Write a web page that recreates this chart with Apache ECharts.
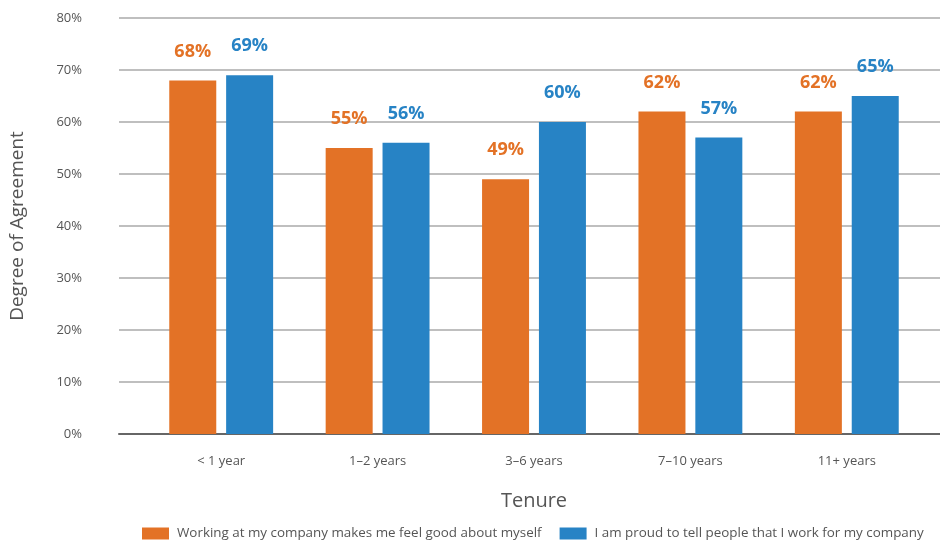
<!DOCTYPE html>
<html>
<head>
<meta charset="utf-8">
<script src="https://cdn.jsdelivr.net/npm/echarts@6/dist/echarts.min.js"></script>
<style>
  html, body { margin: 0; padding: 0; background: #fff; }
  #chart { width: 940px; height: 540px; }
</style>
</head>
<body>
<div id="chart"></div>
<script>
// Tenure bands and agreement (%) per statement
const categories = ['< 1 year', '1\u20132 years', '3\u20136 years', '7\u201310 years', '11+ years'];
const feelGood = [68, 55, 49, 62, 62];
const proudToTell = [69, 56, 60, 57, 65];
const seriesNames = [
  'Working at my company makes me feel good about myself',
  'I am proud to tell people that I work for my company'
];
const yTicks = [0, 10, 20, 30, 40, 50, 60, 70, 80];

const ORANGE = '#E37226';
const BLUE = '#2783C5';
const FONT = '"Open Sans", "Noto Sans", sans-serif';

const chart = echarts.init(document.getElementById('chart'), null, { renderer: 'canvas' });

const barLabel = color => ({
  show: true,
  position: 'top',
  distance: 20,
  formatter: p => p.value + '%',
  color: color,
  fontFamily: FONT,
  fontWeight: 'bold',
  fontSize: 18
});

chart.setOption({
  animation: false,
  textStyle: { fontFamily: FONT },
  grid: [
    // full-width grid carrying gridlines, y labels and baseline
    { left: 117, right: 0, top: 18, bottom: 106 },
    // inner grid holding the bars
    { left: 143, right: 15, top: 18, bottom: 106 }
  ],
  xAxis: [
    {
      gridIndex: 0, type: 'value', min: 0, max: 1,
      axisLine: { show: true, onZero: false, lineStyle: { color: '#666', width: 2 } },
      axisTick: { show: false }, axisLabel: { show: false }, splitLine: { show: false }
    },
    {
      gridIndex: 1, type: 'category', data: categories,
      axisLine: { show: false }, axisTick: { show: false },
      axisLabel: { color: '#555', fontSize: 13, margin: 21, fontFamily: FONT },
      name: 'Tenure', nameLocation: 'middle', nameGap: 57,
      nameTextStyle: { color: '#555', fontSize: 20, fontFamily: FONT }
    }
  ],
  yAxis: [
    {
      gridIndex: 0, type: 'value', min: yTicks[0], max: yTicks[yTicks.length - 1], interval: 10,
      axisLine: { show: false }, axisTick: { show: false },
      axisLabel: { formatter: v => v + '%', color: '#555', fontSize: 13, margin: 37, fontFamily: FONT },
      splitLine: { lineStyle: { color: '#aaa', width: 1.5 } },
      name: 'Degree of Agreement', nameLocation: 'middle', nameRotate: 90, nameGap: 92,
      nameTextStyle: { color: '#555', fontSize: 19, fontFamily: FONT }
    },
    {
      gridIndex: 1, type: 'value', min: yTicks[0], max: yTicks[yTicks.length - 1],
      show: false, splitLine: { show: false }
    }
  ],
  legend: {
    left: 142, top: 527, padding: 0,
    itemWidth: 27, itemHeight: 12, itemGap: 18,
    icon: 'rect',
    textStyle: { color: '#555', fontSize: 13.4, fontFamily: FONT, padding: [0, 0, 0, 3] },
    data: seriesNames
  },
  series: [
    {
      name: seriesNames[0], type: 'bar', xAxisIndex: 1, yAxisIndex: 1,
      data: feelGood, barWidth: 47, barGap: '21%',
      itemStyle: { color: ORANGE }, label: barLabel(ORANGE)
    },
    {
      name: seriesNames[1], type: 'bar', xAxisIndex: 1, yAxisIndex: 1,
      data: proudToTell, barWidth: 47, barGap: '21%',
      itemStyle: { color: BLUE }, label: barLabel(BLUE)
    }
  ]
});
</script>
</body>
</html>
